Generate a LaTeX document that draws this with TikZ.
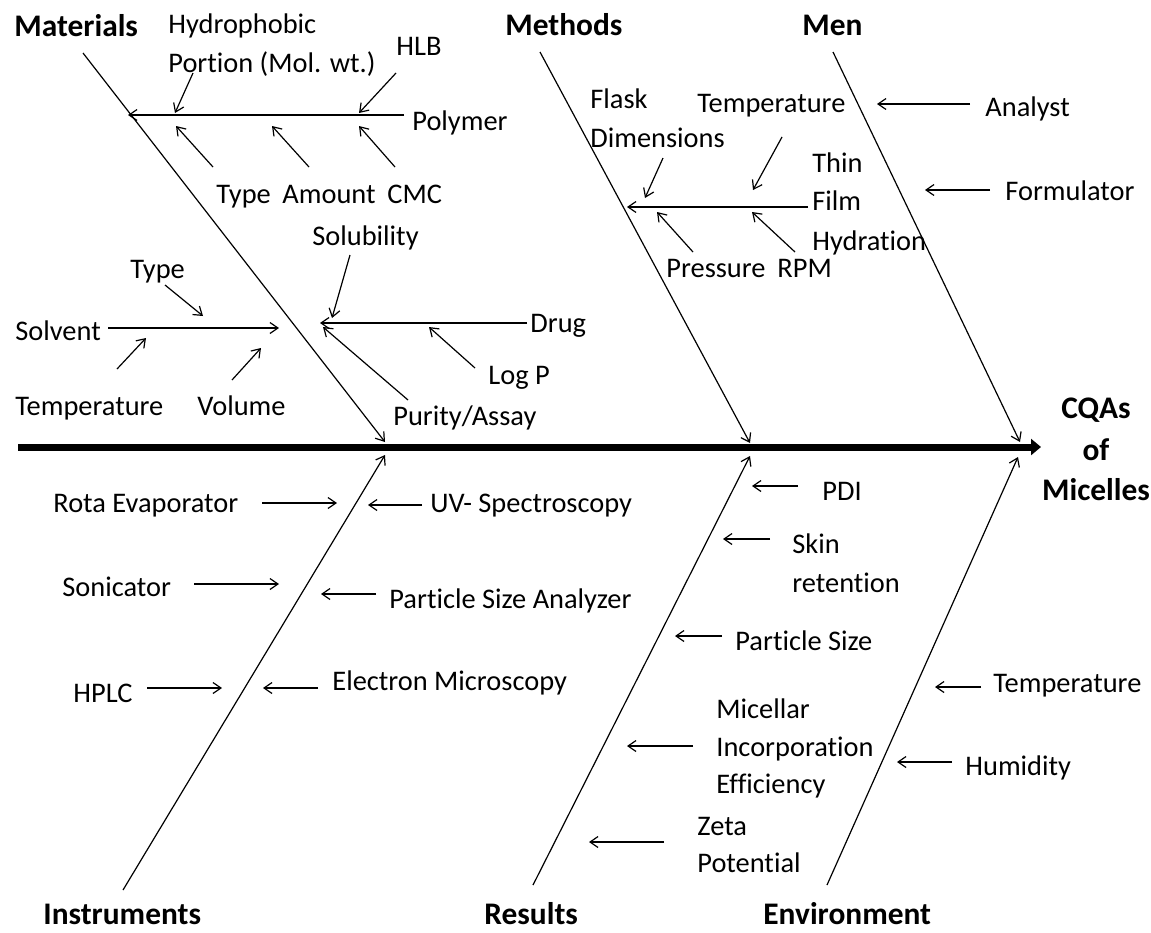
\documentclass[tikz,border=0pt]{standalone}
\usepackage{fontspec}
\setmainfont{Carlito}[Ligatures=NoCommon]
\usetikzlibrary{arrows.meta}

\begin{document}
\begin{tikzpicture}
        [x=0.5pt,y=-0.5pt,
         lbl/.style={font=\fontsize{14.2}{16}\selectfont,inner sep=0pt,anchor=base west},
         head/.style={font=\fontsize{15.7}{18}\selectfont\bfseries,inner sep=0pt,anchor=base west},
         twig/.style={line width=0.6pt,-{Straight Barb[length=4pt,width=5.5pt]}}]
        \useasboundingbox (0,0) rectangle (1151,932);

        % spine
        \coordinate (tail) at (18,447);
        \coordinate (effect) at (1041,447);
        \draw[line width=3.5pt,-{Triangle[length=5pt,width=8pt]}] (tail) -- (effect);
        \node[head,anchor=base] (cqa1) at (1096,418) {CQAs};
        \node[head,anchor=base] (cqa2) at (1096,460) {of};
        \node[head,anchor=base] (cqa3) at (1096,500) {Micelles};

        % main bones
        \node[head] (mat) at (14,36) {Materials};
        \node[head] (meth) at (505,35) {Methods};
        \node[head] (men) at (802,35) {Men};
        \node[head] (inst) at (43,924) {Instruments};
        \node[head] (res) at (484,924) {Results};
        \node[head] (env) at (763,924) {Environment};
        \coordinate (mat0) at (83,53);   \coordinate (mat1) at (385,442);
        \coordinate (meth0) at (540,52); \coordinate (meth1) at (750,443);
        \coordinate (men0) at (833,52);  \coordinate (men1) at (1020,442);
        \coordinate (inst0) at (123,890); \coordinate (inst1) at (385,455);
        \coordinate (res0) at (533,885); \coordinate (res1) at (750,456);
        \coordinate (env0) at (827,885); \coordinate (env1) at (1018,457);
        \draw[twig] (mat0) -- (mat1);
        \draw[twig] (meth0) -- (meth1);
        \draw[twig] (men0) -- (men1);
        \draw[twig] (inst0) -- (inst1);
        \draw[twig] (res0) -- (res1);
        \draw[twig] (env0) -- (env1);

        % Materials
        \node[lbl] (hyd1) at (168,33) {Hydrophobic};
        \node[lbl] (hyd2) at (168,72) {Portion (Mol. wt.)};
        \node[lbl] (hlb) at (396,55) {HLB};
        \node[lbl] (poly) at (412,130) {Polymer};
        \node[lbl] (ptype) at (216,203) {Type};
        \node[lbl] (amount) at (282,203) {Amount};
        \node[lbl] (cmc) at (387,203) {CMC};
        \node[lbl] (solub) at (312,245) {Solubility};
        \node[lbl] (drug) at (530,332) {Drug};
        \node[lbl] (logp) at (488,384) {Log P};
        \node[lbl] (purity) at (393,425) {Purity/Assay};
        \node[lbl] (stype) at (130,278) {Type};
        \node[lbl] (solv) at (15,340) {Solvent};
        \node[lbl] (stemp) at (15,415) {Temperature};
        \node[lbl] (vol) at (197,415) {Volume};

        \coordinate (poly0) at (404,115); \coordinate (poly1) at (128,115);
        \coordinate (hyd0) at (193,73);   \coordinate (hyd9) at (175,113);
        \coordinate (hlb0) at (396,73);   \coordinate (hlb9) at (359,113);
        \coordinate (ptype0) at (213,167); \coordinate (ptype9) at (176,126);
        \coordinate (amount0) at (309,167); \coordinate (amount9) at (272,126);
        \coordinate (cmc0) at (395,167);  \coordinate (cmc9) at (359,126);
        \coordinate (drug0) at (527,323); \coordinate (drug1) at (320,323);
        \coordinate (solub0) at (350,255); \coordinate (solub9) at (332,318);
        \coordinate (logp0) at (475,368); \coordinate (logp9) at (429,327);
        \coordinate (purity0) at (408,400); \coordinate (purity9) at (323,327);
        \coordinate (solv0) at (108,328); \coordinate (solv1) at (279,328);
        \coordinate (stype0) at (165,285); \coordinate (stype9) at (203,316);
        \coordinate (stemp0) at (117,369); \coordinate (stemp9) at (146,338);
        \coordinate (vol0) at (232,380);  \coordinate (vol9) at (261,348);
        \draw[twig] (poly0) -- (poly1);
        \draw[twig] (hyd0) -- (hyd9);
        \draw[twig] (hlb0) -- (hlb9);
        \draw[twig] (ptype0) -- (ptype9);
        \draw[twig] (amount0) -- (amount9);
        \draw[twig] (cmc0) -- (cmc9);
        \draw[twig] (drug0) -- (drug1);
        \draw[twig] (solub0) -- (solub9);
        \draw[twig] (logp0) -- (logp9);
        \draw[twig] (purity0) -- (purity9);
        \draw[twig] (solv0) -- (solv1);
        \draw[twig] (stype0) -- (stype9);
        \draw[twig] (stemp0) -- (stemp9);
        \draw[twig] (vol0) -- (vol9);

        % Methods
        \node[lbl] (flask1) at (590,108) {Flask};
        \node[lbl] (flask2) at (590,147) {Dimensions};
        \node[lbl] (mtemp) at (697,112) {Temperature};
        \node[lbl] (thin1) at (812,172) {Thin};
        \node[lbl] (thin2) at (812,210) {Film};
        \node[lbl] (thin3) at (812,250) {Hydration};
        \node[lbl] (press) at (666,277) {Pressure};
        \node[lbl] (rpm) at (777,277) {RPM};
        \coordinate (thin0) at (808,207);  \coordinate (thin9) at (627,207);
        \coordinate (flask0) at (663,158); \coordinate (flask9) at (645,198);
        \coordinate (mtemp0) at (782,137); \coordinate (mtemp9) at (753,190);
        \coordinate (press0) at (693,252); \coordinate (press9) at (657,212);
        \coordinate (rpm0) at (795,252);   \coordinate (rpm9) at (752,212);
        \draw[twig] (thin0) -- (thin9);
        \draw[twig] (flask0) -- (flask9);
        \draw[twig] (mtemp0) -- (mtemp9);
        \draw[twig] (press0) -- (press9);
        \draw[twig] (rpm0) -- (rpm9);

        % Men
        \node[lbl] (analyst) at (985,116) {Analyst};
        \node[lbl] (form) at (1005,200) {Formulator};
        \coordinate (analyst0) at (970,104); \coordinate (analyst9) at (877,104);
        \coordinate (form0) at (990,190);    \coordinate (form9) at (925,190);
        \draw[twig] (analyst0) -- (analyst9);
        \draw[twig] (form0) -- (form9);

        % Instruments
        \node[lbl] (rota) at (53,512) {Rota Evaporator};
        \node[lbl] (uv) at (430,512) {UV- Spectroscopy};
        \node[lbl] (sonic) at (62,596) {Sonicator};
        \node[lbl] (psa) at (389,608) {Particle Size Analyzer};
        \node[lbl] (hplc) at (73,702) {HPLC};
        \node[lbl] (em) at (332,690) {Electron Microscopy};
        \coordinate (rota0) at (262,503);  \coordinate (rota9) at (337,503);
        \coordinate (uv0) at (422,505);    \coordinate (uv9) at (368,505);
        \coordinate (sonic0) at (194,584); \coordinate (sonic9) at (279,584);
        \coordinate (psa0) at (376,594);   \coordinate (psa9) at (321,594);
        \coordinate (hplc0) at (147,688);  \coordinate (hplc9) at (222,688);
        \coordinate (em0) at (318,688);    \coordinate (em9) at (263,688);
        \draw[twig] (rota0) -- (rota9);
        \draw[twig] (uv0) -- (uv9);
        \draw[twig] (sonic0) -- (sonic9);
        \draw[twig] (psa0) -- (psa9);
        \draw[twig] (hplc0) -- (hplc9);
        \draw[twig] (em0) -- (em9);

        % Results
        \node[lbl] (pdi) at (822,500) {PDI};
        \node[lbl] (skin1) at (792,553) {Skin};
        \node[lbl] (skin2) at (792,592) {retention};
        \node[lbl] (psize) at (735,650) {Particle Size};
        \node[lbl] (mic1) at (716,718) {Micellar};
        \node[lbl] (mic2) at (716,756) {Incorporation};
        \node[lbl] (mic3) at (716,793) {Efficiency};
        \node[lbl] (zeta1) at (697,835) {Zeta};
        \node[lbl] (zeta2) at (697,872) {Potential};
        \coordinate (pdi0) at (798,486);   \coordinate (pdi9) at (752,486);
        \coordinate (skin0) at (770,539);  \coordinate (skin9) at (723,539);
        \coordinate (psize0) at (722,636); \coordinate (psize9) at (675,636);
        \coordinate (mic0) at (693,746);   \coordinate (mic9) at (627,746);
        \coordinate (zeta0) at (664,842);  \coordinate (zeta9) at (589,842);
        \draw[twig] (pdi0) -- (pdi9);
        \draw[twig] (skin0) -- (skin9);
        \draw[twig] (psize0) -- (psize9);
        \draw[twig] (mic0) -- (mic9);
        \draw[twig] (zeta0) -- (zeta9);

        % Environment
        \node[lbl] (etemp) at (993,692) {Temperature};
        \node[lbl] (humid) at (965,775) {Humidity};
        \coordinate (etemp0) at (981,687); \coordinate (etemp9) at (935,687);
        \coordinate (humid0) at (952,762); \coordinate (humid9) at (897,762);
        \draw[twig] (etemp0) -- (etemp9);
        \draw[twig] (humid0) -- (humid9);
      \end{tikzpicture}
\end{document}
